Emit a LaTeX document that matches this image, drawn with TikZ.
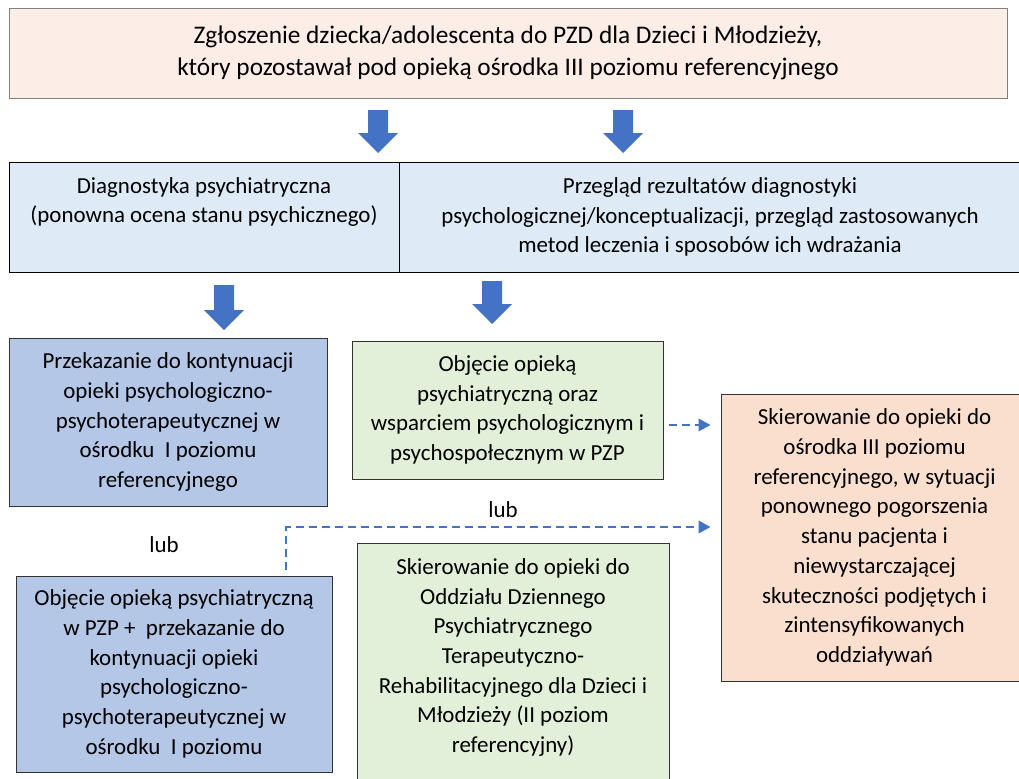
\documentclass[tikz,border=0pt]{standalone}
\usepackage{fontspec}
\setmainfont{Carlito}
\usetikzlibrary{arrows.meta,calc}
\definecolor{arrowblue}{HTML}{4472C4}
\definecolor{topfill}{HTML}{FCEEE6}
\definecolor{rowfill}{HTML}{DEEBF7}
\definecolor{bluefill}{HTML}{B4C7E7}
\definecolor{greenfill}{HTML}{E2F0D9}
\definecolor{peachfill}{HTML}{FADFCE}
\newcommand\blockdown[3]{\fill[arrowblue] (#1-10,#2) -- (#1+10,#2) -- (#1+10,#3-20) -- (#1+20,#3-20) -- (#1,#3) -- (#1-20,#3-20) -- (#1-10,#3-20) -- cycle;}
\begin{document}
\begin{tikzpicture}[x=0.75pt,y=-0.75pt,
  sz/.style 2 args={minimum width=#1*0.75pt, minimum height=#2*0.75pt},
  txt/.style={inner sep=0pt, align=center, font=\fontsize{17.2}{22.3}\selectfont},
  box/.style={txt, draw=black!80, line width=0.75pt},
  dasharrow/.style={draw=arrowblue, line width=1.1pt, dash pattern=on 6pt off 3.75pt, -{Triangle[length=9pt,width=9.5pt]}}]
\useasboundingbox (0,0) rectangle (1019,778);
\clip (0,0) rectangle (1019,778);
% top
\node[box, draw=black!50, fill=topfill, sz={998}{90}, font=\fontsize{19}{24}\selectfont] (top) at (508,53)
  {Zgłoszenie dziecka/adolescenta do PZD dla Dzieci i Młodzieży,\\który pozostawał pod opieką ośrodka III poziomu referencyjnego};
% row 2
\node[box, draw=black, fill=rowfill, sz={390}{110}] (diag) at (204,217) {};
\node[txt] (diagtxt) at (204,202) {Diagnostyka psychiatryczna\\(ponowna ocena stanu psychicznego)};
\node[box, draw=black, fill=rowfill, sz={622}{110}] (przeg) at (710,217)
  {Przegląd rezultatów diagnostyki\\psychologicznej/konceptualizacji, przegląd zastosowanych\\metod leczenia i sposobów ich wdrażania};
% row 3
\node[box, fill=bluefill, sz={318}{168}] (przek) at (168,422)
  {Przekazanie do kontynuacji\\opieki psychologiczno-\\psychoterapeutycznej w\\ośrodku\ \ I poziomu\\referencyjnego};
\node[box, fill=greenfill, sz={311}{138}] (obj1) at (507.5,410)
  {Objęcie opieką\\psychiatryczną oraz\\wsparciem psychologicznym i\\psychospołecznym w PZP};
\node[box, fill=peachfill, sz={307}{287}] (skier3) at (874.5,537.5)
  {Skierowanie do opieki do\\ośrodka III poziomu\\referencyjnego, w sytuacji\\ponownego pogorszenia\\stanu pacjenta i\\niewystarczającej\\skuteczności podjętych i\\zintensyfikowanych\\oddziaływań};
% row 4
\node[box, fill=bluefill, sz={316}{196}] (obj2) at (174,674)
  {Objęcie opieką psychiatryczną\\w PZP +\ \ przekazanie do\\kontynuacji opieki\\psychologiczno-\\psychoterapeutycznej w\\ośrodku\ \ I poziomu};
\node[box, fill=greenfill, sz={312}{260}] (skodd) at (513,673) {};
\node[txt] (skoddtxt) at (513,657.5)
  {Skierowanie do opieki do\\Oddziału Dziennego\\Psychiatrycznego\\Terapeutyczno-\\Rehabilitacyjnego dla Dzieci i\\Młodzieży (II poziom\\referencyjny)};
% labels
\node[txt] (lub1) at (503,510) {lub};
\node[txt] (lub2) at (164,545) {lub};
% block arrows
\blockdown{378}{110}{153}
\blockdown{623}{110}{153}
\blockdown{224}{285}{330}
\blockdown{492}{281}{324}
% dashed connectors
\coordinate (d1s) at ($(obj1.east)+(5,15)$);
\coordinate (d1e) at ($(skier3.west |- d1s)+(-10,0)$);
\draw[dasharrow] (d1s) -- (d1e);
\coordinate (d2s) at ($(obj2.north)+(112,-6)$);
\coordinate (d2e) at ($(skier3.west)+(-10,-10.5)$);
\draw[dasharrow] (d2s) |- (d2e);
\end{tikzpicture}
\end{document}
